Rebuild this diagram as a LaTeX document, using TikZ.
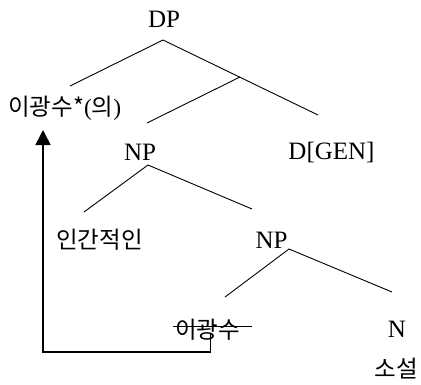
\documentclass[tikz,border=0pt]{standalone}
\usepackage{fontspec}
\setmainfont{Liberation Serif}
\newfontfamily\krfont{Noto Sans CJK KR}
\usetikzlibrary{arrows.meta}
\begin{document}
\begin{tikzpicture}[x=1pt,y=-1pt,
  lat/.style={inner sep=0pt, font=\fontsize{25}{29}\selectfont},
  kor/.style={inner sep=0pt, font=\fontsize{23.5}{27}\selectfont\krfont},
  branch/.style={line width=0.9pt},
  move/.style={line width=1.6pt, -{Triangle[width=15pt,length=15pt]}}]
\useasboundingbox (0,0) rectangle (421,384);
% labels
\node[lat, anchor=base] (dp) at (164,27) {DP};
\node[inner sep=0pt, anchor=base west, font=\fontsize{23.5}{27}\selectfont] (spec) at (8,115) {{\krfont 이광수*}({\krfont 의})};
\node[lat, anchor=base] (np1) at (140,160) {NP};
\node[lat, anchor=base] (dgen) at (331.5,159.5) {D[GEN]};
\node[kor, anchor=base] (adj) at (99.5,248) {인간적인};
\node[lat, anchor=base] (np2) at (271.5,248) {NP};
\node[kor, anchor=base] (trace) at (207.5,338) {이광수};
\node[lat, anchor=base] (n) at (397,337) {N};
\node[kor, anchor=base] (noun) at (396,377) {소설};
% branch points
\coordinate (dpT) at (163,40);
\coordinate (dpL) at (70,86);
\coordinate (dpR) at (318,115);
\coordinate (dbarT) at (240,77);
\coordinate (dbarL) at (147,123);
\coordinate (np1T) at (148,165);
\coordinate (np1L) at (84,212);
\coordinate (np1R) at (252,209);
\coordinate (np2T) at (289,249);
\coordinate (np2L) at (225,297);
\coordinate (np2R) at (392,292);
\draw[branch] (dpL) -- (dpT) -- (dpR);
\draw[branch] (dbarT) -- (dbarL);
\draw[branch] (np1L) -- (np1T) -- (np1R);
\draw[branch] (np2L) -- (np2T) -- (np2R);
% strike through the trace
\coordinate (strL) at (173,326.5);
\coordinate (strR) at (252,326.5);
\draw[line width=1pt] (strL) -- (strR);
% movement arrow
\coordinate (mvS) at (210.5,333);
\coordinate (mvT) at (43,130);
\draw[move] (mvS) -- ++(0,19) -| (mvT);
\end{tikzpicture}
\end{document}
